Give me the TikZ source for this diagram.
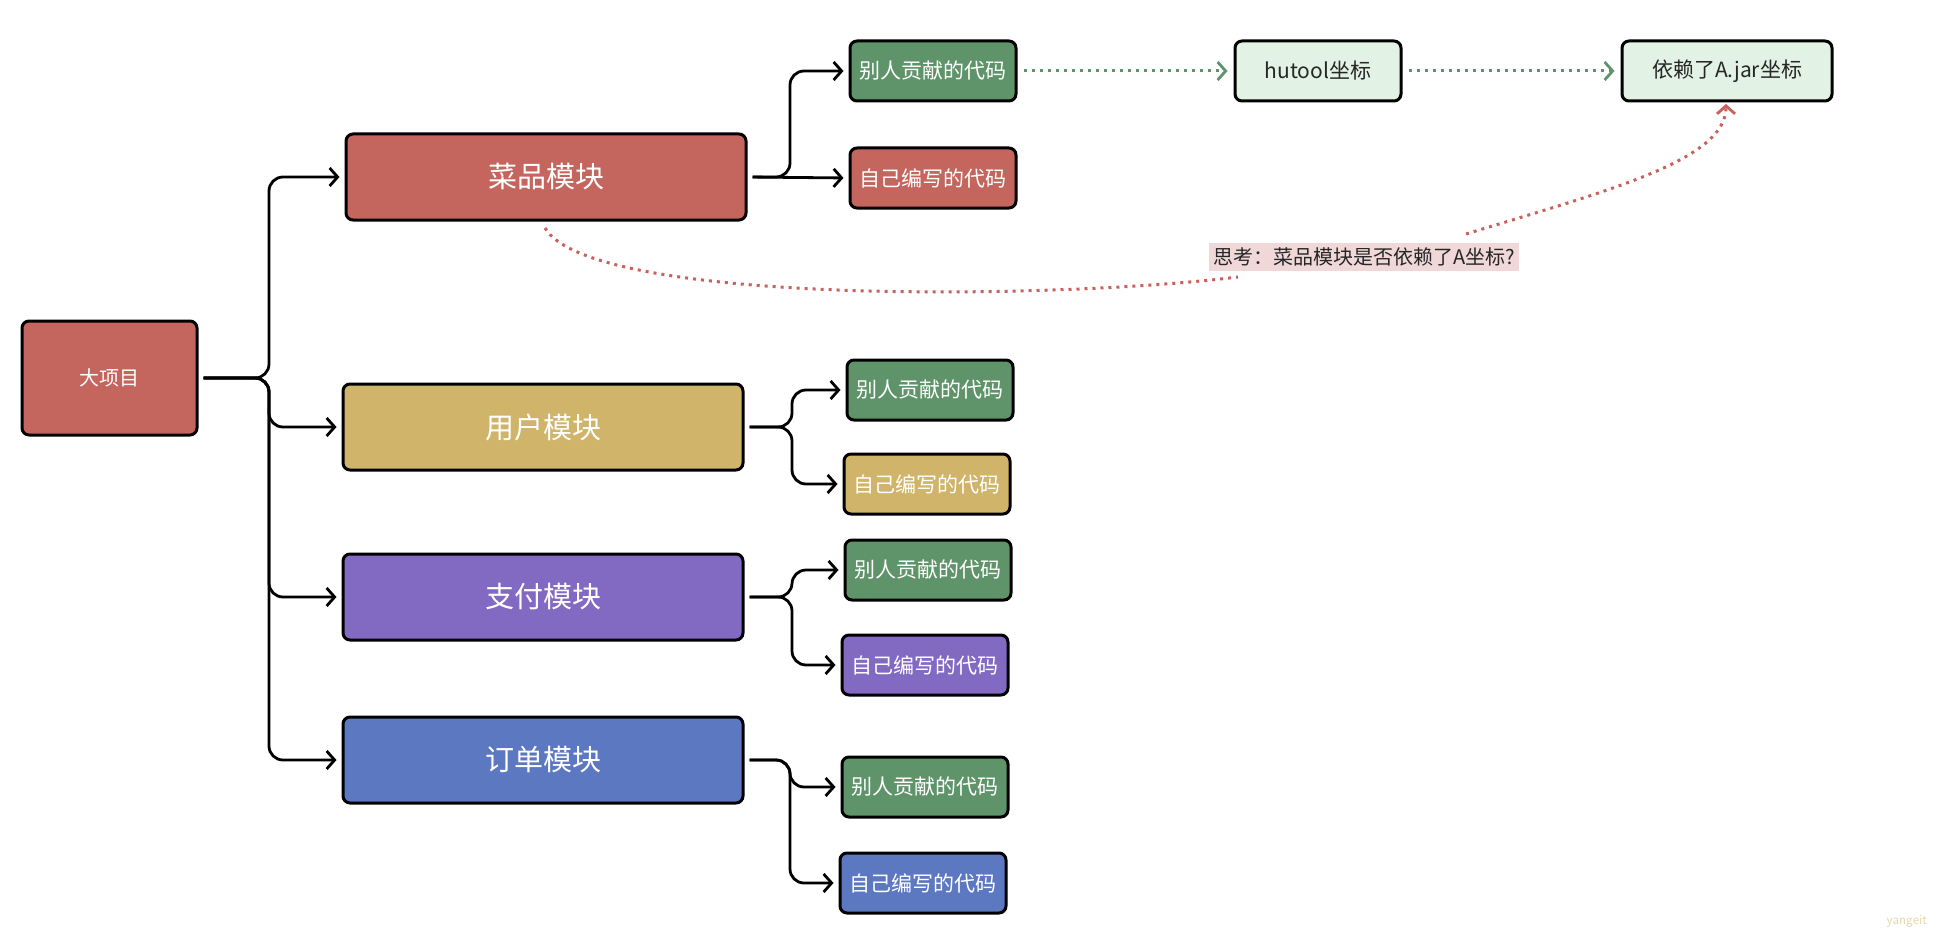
\documentclass[tikz,border=0pt]{standalone}
\usepackage{fontspec}
\newfontfamily\cjk{Noto Sans CJK SC}
\usetikzlibrary{arrows.meta}
\definecolor{cred}{HTML}{C4655E}
\definecolor{cyel}{HTML}{CFB46A}
\definecolor{cpur}{HTML}{826AC2}
\definecolor{cblu}{HTML}{5B78C0}
\definecolor{cgrn}{HTML}{5F946A}
\definecolor{clgr}{HTML}{E2F2E4}
\definecolor{cpnk}{HTML}{F0D8D8}
\definecolor{cdred}{HTML}{C9605C}
\definecolor{cwm}{HTML}{E6D6AE}
\tikzset{
  box/.style={draw=black, line width=3pt, rounded corners=7pt, text=white, inner sep=0pt, align=center},
  rootbox/.style={box, fill=cred, minimum width=175pt, minimum height=114pt, font=\cjk\fontsize{20}{24}\selectfont},
  modbox/.style={box, minimum width=400pt, minimum height=86pt, font=\cjk\fontsize{29}{34}\selectfont},
  subbox/.style={box, minimum width=166pt, minimum height=60pt, font=\cjk\fontsize{21}{25}\selectfont},
  lightbox/.style={subbox, fill=clgr, text=black!85},
  tip/.style={-{Straight Barb[length=8pt,width=18pt,line width=2.8pt]}},
  conn/.style={draw=black, line width=2.8pt, rounded corners=14pt, tip, shorten >=5pt, shorten <=5pt},
  gdot/.style={draw=cgrn, line width=3pt, dash pattern=on 3pt off 5pt, tip, shorten >=6pt, shorten <=6pt},
  rdot/.style={draw=cdred, line width=3pt, dash pattern=on 3pt off 5pt},
}
\begin{document}
\begin{tikzpicture}[x=1pt,y=-1pt]
\useasboundingbox (0,0) rectangle (1950,936);
% nodes
\node[rootbox] (root) at (109.5,378) {大项目};
\node[modbox, fill=cred] (m1) at (546,177) {菜品模块};
\node[modbox, fill=cyel] (m2) at (543,427) {用户模块};
\node[modbox, fill=cpur] (m3) at (543,597) {支付模块};
\node[modbox, fill=cblu] (m4) at (543,760) {订单模块};

\node[subbox, fill=cgrn] (a1) at (933,71) {别人贡献的代码};
\node[subbox, fill=cred] (b1) at (933,178) {自己编写的代码};
\node[subbox, fill=cgrn] (a2) at (930,390) {别人贡献的代码};
\node[subbox, fill=cyel] (b2) at (927,484) {自己编写的代码};
\node[subbox, fill=cgrn] (a3) at (928,570) {别人贡献的代码};
\node[subbox, fill=cpur] (b3) at (925,665) {自己编写的代码};
\node[subbox, fill=cgrn] (a4) at (925,787) {别人贡献的代码};
\node[subbox, fill=cblu] (b4) at (923,883) {自己编写的代码};

\node[lightbox] (hu) at (1318,71) {hutool坐标};
\node[lightbox, minimum width=210pt] (aj) at (1727,71) {依赖了A.jar坐标};

\coordinate (tx) at (269,0);
\coordinate (rx) at (790,0);
\coordinate (ry) at (792,0);

% left tree
\foreach \m in {m1,m2,m3,m4}{
  \draw[conn] (root.east) -- (tx |- root.east) -- (tx |- \m.west) -- (\m.west);
}
% right branches
\draw[conn] (m1.east) -- (rx |- m1.east) -- (rx |- a1.west) -- (a1.west);
\draw[conn] (m1.east) -- (b1.west);
\draw[conn] (m2.east) -- (ry |- m2.east) -- (ry |- a2.west) -- (a2.west);
\draw[conn] (m2.east) -- (ry |- m2.east) -- (ry |- b2.west) -- (b2.west);
\draw[conn] (m3.east) -- (ry |- m3.east) -- (ry |- a3.west) -- (a3.west);
\draw[conn] (m3.east) -- (ry |- m3.east) -- (ry |- b3.west) -- (b3.west);
\draw[conn] (m4.east) -- (rx |- m4.east) -- (rx |- a4.west) -- (a4.west);
\draw[conn] (m4.east) -- (rx |- m4.east) -- (rx |- b4.west) -- (b4.west);

% green dotted arrows
\draw[gdot] (a1.east) -- (hu.west);
\draw[gdot] (hu.east) -- (aj.west);

% red dotted question
\node[fill=cpnk, text=black!85, font=\cjk\fontsize{20}{24}\selectfont, inner xsep=4pt, inner ysep=5pt] (q) at (1364,257) {思考：菜品模块是否依赖了A坐标?};
\coordinate (qs) at (1238,277);
\coordinate (qe) at (1466,234);
\coordinate (qt) at (1726,104);
\draw[rdot] (545,228) .. controls (590,305) and (1050,300) .. (qs);
\draw[rdot, tip] (qe) .. controls (1610,190) and (1726,160) .. (qt);
\node[font=\sffamily\fontsize{14}{16}\selectfont, text=cwm] (wm) at (1907,921) {yangeit};
\end{tikzpicture}
\end{document}
